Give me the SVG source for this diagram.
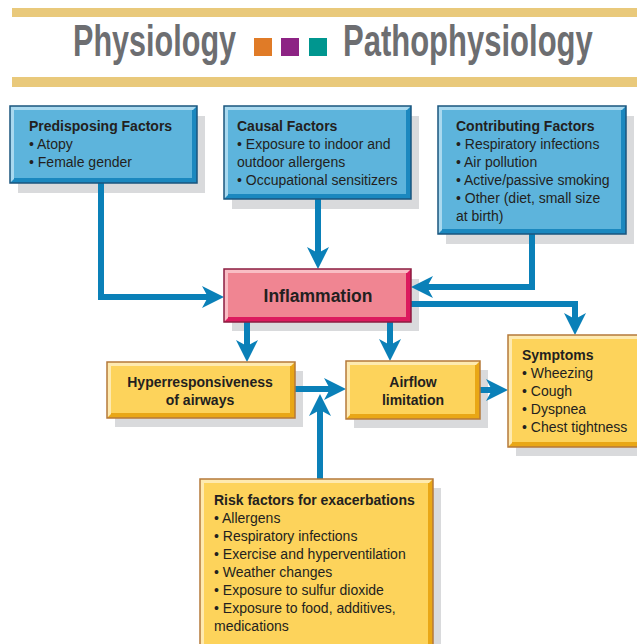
<svg xmlns="http://www.w3.org/2000/svg" width="637" height="644" viewBox="0 0 637 644">
<defs>
<style>
.bar{fill:#e9c97b}
.title{font-family:"Liberation Sans",Arial,sans-serif;font-weight:bold;font-size:44px;fill:#6d6e71}
.t{font-family:"Liberation Sans",Arial,sans-serif;font-size:14px;fill:#231f20}
.b{font-weight:bold}
.shadow{fill:#d9dadc}
.conn{fill:none;stroke:#0a80b8;stroke-width:6;marker-end:url(#ah)}
.blue .dk{fill:#1b88bf}.blue .lt{fill:#a9d9ef}.blue .mn{fill:#5db4dc}.blue .ol{fill:none;stroke:#1a557e;stroke-width:1.5}
.pink .dk{fill:#dc1a5e}.pink .lt{fill:#f9bdc4}.pink .mn{fill:#f08592}.pink .ol{fill:none;stroke:#8c1d40;stroke-width:1.5}
.yel .dk{fill:#e9a716}.yel .lt{fill:#feeab0}.yel .mn{fill:#fdd35b}.yel .ol{fill:none;stroke:#b5793a;stroke-width:1.5}
</style>
<marker id="ah" markerUnits="userSpaceOnUse" markerWidth="22" markerHeight="22" viewBox="0 0 22 22" refX="10" refY="11" orient="auto">
<path d="M0,0 L22,11 L0,22 L6,11 Z" fill="#0a80b8"/>
</marker>
</defs>
<rect width="637" height="644" fill="#ffffff"/>
<g id="header">
<rect class="bar" x="12" y="8" width="625" height="9"/>
<rect class="bar" x="12" y="77" width="625" height="10"/>
<text class="title" transform="translate(73,56) scale(0.695,1)">Physiology</text>
<rect x="254" y="38" width="18" height="18" fill="#e07b27"/>
<rect x="281" y="38" width="18" height="18" fill="#8d2384"/>
<rect x="309" y="38" width="18" height="18" fill="#00968f"/>
<text class="title" transform="translate(343,56) scale(0.705,1)">Pathophysiology</text>
</g>
<g id="shadows">
<rect class="shadow" x="18" y="116" width="187" height="77"/>
<rect class="shadow" x="232" y="116" width="187" height="93"/>
<rect class="shadow" x="446" y="116" width="188" height="128"/>
<rect class="shadow" x="232" y="279" width="187" height="52"/>
<rect class="shadow" x="115" y="371" width="188" height="56"/>
<rect class="shadow" x="354" y="370" width="134" height="58"/>
<rect class="shadow" x="516" y="344" width="130" height="112"/>
<rect class="shadow" x="208" y="488" width="233" height="170"/>
</g>
<g id="connectors">
<path class="conn" d="M101,183 V297 H212"/>
<path class="conn" d="M318,199 V257"/>
<path class="conn" d="M532,234 V287 H423"/>
<path class="conn" d="M411,304 H575 V323"/>
<path class="conn" d="M247,322 V350"/>
<path class="conn" d="M390,322 V349"/>
<path class="conn" d="M295,389 H334"/>
<path class="conn" d="M320,479 V406"/>
<path class="conn" d="M480,390 H496"/>
</g>
<g id="predisposing" class="blue">
<rect class="dk" x="10" y="106" width="187" height="77"/>
<polygon class="lt" points="10,106 197,106 193,110 14,110 14,179 10,183"/>
<rect class="mn" x="14" y="110" width="178" height="68"/>
<rect class="ol" x="10" y="106" width="187" height="77"/>
<text class="t b" x="29" y="131">Predisposing Factors</text>
<text class="t" x="29" y="149">• Atopy</text>
<text class="t" x="29" y="167">• Female gender</text>
</g>
<g id="causal" class="blue">
<rect class="dk" x="224" y="106" width="187" height="93"/>
<polygon class="lt" points="224,106 411,106 407,110 228,110 228,195 224,199"/>
<rect class="mn" x="228" y="110" width="178" height="84"/>
<rect class="ol" x="224" y="106" width="187" height="93"/>
<text class="t b" x="237" y="131">Causal Factors</text>
<text class="t" x="237" y="149">• Exposure to indoor and</text>
<text class="t" x="237" y="167">outdoor allergens</text>
<text class="t" x="237" y="185">• Occupational sensitizers</text>
</g>
<g id="contributing" class="blue">
<rect class="dk" x="438" y="106" width="188" height="128"/>
<polygon class="lt" points="438,106 626,106 622,110 442,110 442,230 438,234"/>
<rect class="mn" x="442" y="110" width="179" height="119"/>
<rect class="ol" x="438" y="106" width="188" height="128"/>
<text class="t b" x="456" y="131">Contributing Factors</text>
<text class="t" x="456" y="149">• Respiratory infections</text>
<text class="t" x="456" y="167">• Air pollution</text>
<text class="t" x="456" y="185">• Active/passive smoking</text>
<text class="t" x="456" y="203">• Other (diet, small size</text>
<text class="t" x="456" y="221">at birth)</text>
</g>
<g id="inflammation" class="pink">
<rect class="dk" x="224" y="269" width="187" height="53"/>
<polygon class="lt" points="224,269 411,269 407,273 228,273 228,318 224,322"/>
<rect class="mn" x="228" y="273" width="178" height="44"/>
<rect class="ol" x="224" y="269" width="187" height="53"/>
<text class="t b" x="318" y="302" text-anchor="middle" style="font-size:17.5px">Inflammation</text>
</g>
<g id="hyperresponsiveness" class="yel">
<rect class="dk" x="107" y="362" width="188" height="56"/>
<polygon class="lt" points="107,362 295,362 291,366 111,366 111,414 107,418"/>
<rect class="mn" x="111" y="366" width="179" height="47"/>
<rect class="ol" x="107" y="362" width="188" height="56"/>
<text class="t b" x="200" y="387" text-anchor="middle">Hyperresponsiveness</text>
<text class="t b" x="200" y="405" text-anchor="middle">of airways</text>
</g>
<g id="airflow" class="yel">
<rect class="dk" x="346" y="361" width="134" height="58"/>
<polygon class="lt" points="346,361 480,361 476,365 350,365 350,415 346,419"/>
<rect class="mn" x="350" y="365" width="125" height="49"/>
<rect class="ol" x="346" y="361" width="134" height="58"/>
<text class="t b" x="413" y="387" text-anchor="middle">Airflow</text>
<text class="t b" x="413" y="405" text-anchor="middle">limitation</text>
</g>
<g id="symptoms" class="yel">
<rect class="dk" x="508" y="335" width="140" height="112"/>
<polygon class="lt" points="508,335 648,335 644,339 512,339 512,443 508,447"/>
<rect class="mn" x="512" y="339" width="131" height="103"/>
<rect class="ol" x="508" y="335" width="140" height="112"/>
<text class="t b" x="522" y="360">Symptoms</text>
<text class="t" x="522" y="378">• Wheezing</text>
<text class="t" x="522" y="396">• Cough</text>
<text class="t" x="522" y="414">• Dyspnea</text>
<text class="t" x="522" y="432">• Chest tightness</text>
</g>
<g id="riskfactors" class="yel">
<rect class="dk" x="200" y="479" width="233" height="175"/>
<polygon class="lt" points="200,479 433,479 429,483 204,483 204,650 200,654"/>
<rect class="mn" x="204" y="483" width="224" height="166"/>
<rect class="ol" x="200" y="479" width="233" height="175"/>
<text class="t b" x="214" y="505">Risk factors for exacerbations</text>
<text class="t" x="214" y="523">• Allergens</text>
<text class="t" x="214" y="541">• Respiratory infections</text>
<text class="t" x="214" y="559">• Exercise and hyperventilation</text>
<text class="t" x="214" y="577">• Weather changes</text>
<text class="t" x="214" y="595">• Exposure to sulfur dioxide</text>
<text class="t" x="214" y="613">• Exposure to food, additives,</text>
<text class="t" x="214" y="631">medications</text>
</g>
</svg>
